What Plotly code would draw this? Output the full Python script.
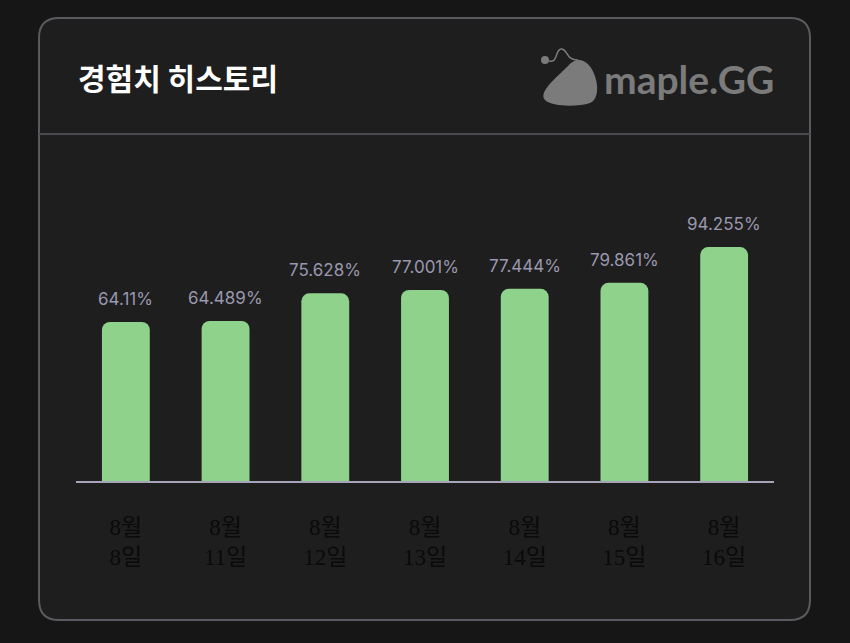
import plotly.graph_objects as go

months = ["8월", "8월", "8월", "8월", "8월", "8월", "8월"]
days = ["8일", "11일", "12일", "13일", "14일", "15일", "16일"]
exp_pct = [64.11, 64.489, 75.628, 77.001, 77.444, 79.861, 94.255]
value_labels = ["64.11%", "64.489%", "75.628%", "77.001%", "77.444%", "79.861%", "94.255%"]

W, H = 850, 643
L, R, T, B = 76, 774, 208, 481   # plot area in pixels
def px(x): return (x - L) / (R - L)
def py(y): return (B - y) / (B - T)

cats = [f"{m}<br>{d}" for m, d in zip(months, days)]
xs = list(range(len(cats)))

fig = go.Figure(go.Bar(
    x=xs, y=exp_pct,
    marker=dict(color="#8ed28b", cornerradius=8, line=dict(width=0)),
    hoverinfo="skip",
))

# card
x0, x1, y0, y1 = 39, 810, 18, 620
r = 20
card = (f"M {px(x0+r)} {py(y0)} L {px(x1-r)} {py(y0)} "
        f"Q {px(x1)} {py(y0)} {px(x1)} {py(y0+r)} L {px(x1)} {py(y1-r)} "
        f"Q {px(x1)} {py(y1)} {px(x1-r)} {py(y1)} L {px(x0+r)} {py(y1)} "
        f"Q {px(x0)} {py(y1)} {px(x0)} {py(y1-r)} L {px(x0)} {py(y0+r)} "
        f"Q {px(x0)} {py(y0)} {px(x0+r)} {py(y0)} Z")
shapes = [
    dict(type="path", xref="paper", yref="paper", path=card, fillcolor="#1e1e1e",
         line=dict(color="#5a5a5e", width=2), layer="below"),
    dict(type="line", xref="paper", yref="paper", x0=px(x0), x1=px(x1), y0=py(134), y1=py(134),
         line=dict(color="#4a4a50", width=2), layer="below"),
]
# logo blob
blob = (f"M {px(580)} {py(60)} "
        f"C {px(596)} {py(62)} {px(604)} {py(98)} {px(590)} {py(103)} "
        f"C {px(578)} {py(107)} {px(552)} {py(107)} {px(545)} {py(100)} "
        f"C {px(538)} {py(92)} {px(556)} {py(78)} {px(568)} {py(66)} "
        f"C {px(572)} {py(61)} {px(576)} {py(60)} {px(580)} {py(60)} Z")
shapes.append(dict(type="path", xref="paper", yref="paper", path=blob,
                   fillcolor="#7b7b7b", line=dict(width=0)))
shapes.append(dict(type="circle", xref="paper", yref="paper",
                   x0=px(541), x1=px(549), y0=py(56), y1=py(64),
                   fillcolor="#7b7b7b", line=dict(width=0)))
string = (f"M {px(549)} {py(61)} C {px(558)} {py(64)} {px(555)} {py(48)} {px(562)} {py(49)} "
          f"C {px(568)} {py(50)} {px(566)} {py(60)} {px(578)} {py(60)}")
shapes.append(dict(type="path", xref="paper", yref="paper", path=string,
                   line=dict(color="#7b7b7b", width=1.5)))

annotations = [
    dict(text="<b>경험치 히스토리</b>", x=px(76), y=py(77), xref="paper", yref="paper",
         xanchor="left", yanchor="middle", showarrow=False,
         font=dict(family="Noto Sans CJK KR", size=30, color="#ffffff")),
    dict(text="<b>maple.GG</b>", x=px(602), y=py(79), xref="paper", yref="paper",
         xanchor="left", yanchor="middle", showarrow=False,
         font=dict(family="Lato, Inter, sans-serif", size=39, color="#7b7b7b")),
]
for xv, yv, t in zip(xs, exp_pct, value_labels):
    annotations.append(dict(text=t, x=xv, y=yv, xref="x", yref="y", showarrow=False,
                            xanchor="center", yanchor="bottom", yshift=11,
                            font=dict(family="Inter, Roboto, sans-serif", size=17, color="#9a98ae")))

fig.update_layout(
    width=W, height=H, margin=dict(l=L, r=W - R, t=T, b=H - B),
    paper_bgcolor="#161616", plot_bgcolor="rgba(0,0,0,0)",
    bargap=0.52, showlegend=False, shapes=shapes, annotations=annotations,
    xaxis=dict(tickmode="array", tickvals=xs, ticktext=cats,
               range=[-0.5, len(cats) - 0.5], showgrid=False, zeroline=False,
               showline=True, linecolor="#a6a4b8", linewidth=2, ticks="",
               ticklabelstandoff=24,
               tickfont=dict(family="Liberation Serif, Noto Sans CJK KR", size=23, color="#0a0a0a")),
    yaxis=dict(range=[0, 110], visible=False, showgrid=False, zeroline=False),
)

fig.write_html("out.html")
